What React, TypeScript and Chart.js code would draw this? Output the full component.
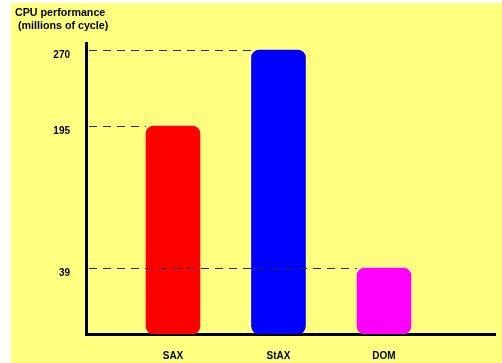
import React, { useEffect, useRef } from 'react';
import { Chart, registerables, LinearScale } from 'chart.js';

// ---- data ----
const categories = ['SAX', 'StAX', 'DOM'];
const cpuCycles = [195, 270, 39];
const barColors = ['#FF0000', '#0000FF', '#FF00FF'];
const yTickValues = [39, 195, 270];
const titleLines = ['CPU performance', ' (millions of cycle)'];

// The reference value axis is not drawn to scale: it is piecewise linear
// between its labelled ticks. This scale reproduces that.
class SteppedScale extends LinearScale {
  static id = 'stepped';
  static defaults = {};

  warp(v: number): number {
    const { from, to } = (this.options as any).breaks;
    for (let i = 1; i < from.length; i++) {
      if (v <= from[i] || i === from.length - 1) {
        const t = (v - from[i - 1]) / (from[i] - from[i - 1]);
        return to[i - 1] + t * (to[i] - to[i - 1]);
      }
    }
    return v;
  }
  unwarp(d: number): number {
    const { from, to } = (this.options as any).breaks;
    for (let i = 1; i < to.length; i++) {
      if (d <= to[i] || i === to.length - 1) {
        const t = (d - to[i - 1]) / (to[i] - to[i - 1]);
        return from[i - 1] + t * (from[i] - from[i - 1]);
      }
    }
    return d;
  }
  getPixelForValue(v: number, index?: number): number {
    return super.getPixelForValue(this.warp(v), index);
  }
  getValueForPixel(p: number): number {
    return this.unwarp(super.getValueForPixel(p) as number);
  }
}

Chart.register(...registerables, SteppedScale);

const FONT = '"Liberation Sans", Arial, sans-serif';

const backgroundPlugin = {
  id: 'paper',
  beforeDraw(chart: any) {
    const { ctx, width, height } = chart;
    ctx.save();
    ctx.fillStyle = '#FFFFFF';
    ctx.fillRect(0, 0, width, height);
    ctx.fillStyle = '#FFFF80';
    ctx.fillRect(11, 3, width - 11, height - 3);
    ctx.restore();
  },
};

const guideLinePlugin = {
  id: 'guideLines',
  afterDatasetsDraw(chart: any) {
    const { ctx, chartArea, scales } = chart;
    const meta = chart.getDatasetMeta(0);
    ctx.save();
    ctx.strokeStyle = '#2a2a2a';
    ctx.lineWidth = 1;
    ctx.setLineDash([8, 6]);
    meta.data.forEach((bar: any, i: number) => {
      const y = Math.round(scales.y.getPixelForValue(cpuCycles[i])) + 0.5;
      const { x, width } = bar.getProps(['x', 'width'], true);
      ctx.beginPath();
      ctx.moveTo(chartArea.left + 3, y);
      ctx.lineTo(x - width / 2, y);
      ctx.stroke();
    });
    ctx.restore();
  },
};

export default function App() {
  const canvasRef = useRef<HTMLCanvasElement>(null);

  useEffect(() => {
    document.body.style.margin = '0';
    const canvas = canvasRef.current;
    if (!canvas) return;

    const chart = new Chart(canvas, {
      type: 'bar',
      data: {
        datasets: [
          {
            data: categories.map((_, i) => ({ x: i + 1, y: cpuCycles[i] })),
            backgroundColor: barColors,
            borderWidth: 0,
            borderRadius: 8,
            borderSkipped: false,
            barThickness: 54,
          },
        ],
      },
      options: {
        animation: false,
        responsive: false,
        devicePixelRatio: 1,
        layout: { padding: { left: 15, right: 7, top: 0, bottom: 0 } },
        plugins: {
          legend: { display: false },
          tooltip: { enabled: false },
          title: {
            display: true,
            text: titleLines,
            align: 'start',
            color: '#000000',
            font: { family: FONT, size: 10.7, weight: 'bold', lineHeight: 1.2 },
            padding: { top: 6.6, bottom: 11.7 },
          },
        },
        scales: {
          x: {
            type: 'linear',
            min: 0.1754,
            max: 4.0524,
            offset: false,
            bounds: 'data',
            z: 1,
            grid: { display: false, drawTicks: false, offset: false },
            border: { display: true, color: '#000000', width: 3 },
            afterBuildTicks: (scale: any) => {
              scale.ticks = categories.map((_, i) => ({ value: i + 1 }));
            },
            afterFit: (scale: any) => {
              scale.height = 29;
            },
            ticks: {
              color: '#000000',
              padding: 16,
              font: { family: FONT, size: 10, weight: 'bold' },
              callback: (v: any) => categories[Math.round(Number(v)) - 1] ?? '',
            },
          },
          y: {
            type: 'stepped' as any,
            min: 0,
            max: 290,
            breaks: { from: [0, 39, 195, 270, 276], to: [0, 66, 208, 284, 290] },
            grid: { display: false, drawTicks: false },
            border: { display: true, color: '#000000', width: 3 },
            afterBuildTicks: (scale: any) => {
              scale.ticks = yTickValues.map((v) => ({ value: v }));
            },
            afterFit: (scale: any) => {
              scale.width = 71;
            },
            ticks: {
              color: '#000000',
              padding: 16,
              labelOffset: 5,
              font: { family: FONT, size: 10, weight: 'bold' },
              callback: (v: any) => String(v),
            },
          } as any,
        },
      },
      plugins: [backgroundPlugin, guideLinePlugin],
    } as any);

    return () => chart.destroy();
  }, []);

  return (
    <div style={{ width: 502, height: 363 }}>
      <canvas ref={canvasRef} width={502} height={363} style={{ display: 'block' }} />
    </div>
  );
}
